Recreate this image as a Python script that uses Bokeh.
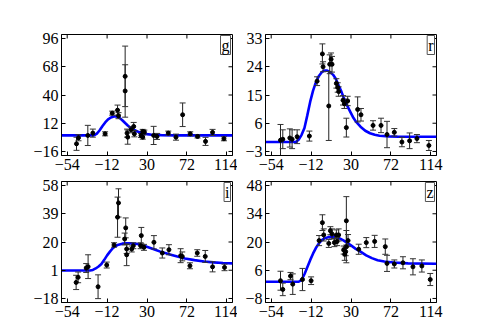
import math
from bokeh.plotting import figure
from bokeh.layouts import gridplot
from bokeh.models import Range1d, FixedTicker, Label, ColumnDataSource
from bokeh.embed import file_html
from bokeh.resources import INLINE

FONT = "Liberation Serif"

x_ticks = [-54, -12, 30, 72, 114]
x_lim = (-60, 120)

# ---------------- g band ----------------
g_ticks = [-16, 12, 40, 68, 96]
g_lim = (-20, 100)
g_t = [-44.2, -42.1, -32.3, -27.0, -14.1, -6.6, -1.0, 0.0, 7.0, 7.0, 9.0, 9.7, 13.2, 16.0, 16.7,
       23.7, 25.5, 27.2, 25.5, 37.0, 40.5, 52.4, 60.5, 67.5, 75.5, 83.2, 91.6, 99.0, 111.0]
g_f = [-8.4, -2.4, -0.1, 2.2, 1.5, 22.0, 25.0, 19.5, 58.5, 44.0, 2.2, -1.8, 5.5, 8.8, 1.5,
       -0.1, 3.9, 3.2, -1.8, -0.1, -1.1, 2.2, -1.8, 20.4, 1.5, -1.1, -6.0, 2.9, -3.4]
g_e = [6.5, 3.0, 10.0, 4.0, 2.0, 2.0, 5.0, 3.0, 30.0, 26.0, 4.0, 7.0, 3.0, 4.0, 3.0,
       2.0, 2.0, 2.0, 2.0, 9.0, 3.0, 2.0, 3.0, 11.7, 2.0, 1.5, 4.0, 3.0, 2.0]
g_mt = [-60, -26, -23, -20, -17, -14, -11, -8, -5, -2, 1, 4, 7, 10, 13, 16, 20, 25, 30, 35, 45, 60, 120]
g_mf = [0.0, 0.0, 1.5, 4.8, 9.0, 12.8, 15.8, 17.7, 18.7, 18.7, 17.5, 15.0, 12.2, 9.5, 7.3, 5.5,
        3.8, 2.2, 1.2, 0.6, 0.2, 0.0, 0.0]

# ---------------- r band ----------------
r_ticks = [-3, 6, 15, 24, 33]
r_lim = (-4.29, 34.29)
r_t = [-44.2, -41.8, -34.4, -32.0, -26.7, -13.8, -5.7, -0.1, 0.6, 6.6, 7.6, 9.0, 10.0, 14.6, 16.0,
       17.0, 21.6, 23.0, 26.5, 25.1, 37.0, 40.5, 53.2, 61.6, 67.9, 75.6, 83.6, 91.7, 99.4, 112.0]
r_f = [0.6, 0.9, 1.3, 0.9, 1.7, 1.9, 19.4, 28.1, 24.0, 11.5, 24.8, 26.4, 24.8, 18.7, 17.4,
       16.1, 13.3, 12.2, 13.1, 4.6, 10.4, 8.7, 5.3, 5.3, 2.4, 3.1, 0.0, 0.4, 1.1, -1.1]
r_e = [5.0, 3.0, 2.9, 3.0, 2.2, 1.6, 1.4, 3.2, 1.6, 11.0, 3.0, 2.0, 2.5, 1.5, 1.5,
       1.5, 1.5, 1.5, 1.5, 3.0, 4.0, 2.0, 1.5, 2.3, 4.2, 1.2, 1.5, 2.5, 1.3, 1.6]
r_mt = [-60, -28, -25, -22, -19, -16, -13, -10, -7, -4, -1, 2, 5, 8, 11, 14, 17, 20, 23, 26, 29,
        32, 35, 40, 45, 50, 55, 60, 70, 80, 120]
r_mf = [0.0, 0.0, 0.8, 2.3, 4.5, 8.5, 12.8, 16.3, 19.0, 21.0, 22.2, 22.8, 22.8, 22.3, 21.5, 20.2,
        18.0, 16.0, 13.6, 11.6, 9.8, 8.0, 6.6, 4.9, 3.6, 2.8, 2.3, 2.0, 1.8, 1.7, 1.7]

# ---------------- i band ----------------
i_ticks = [-18, 1, 20, 39, 58]
i_lim = (-20.71, 60.71)
i_t = [-44.6, -42.5, -34.0, -32.0, -21.5, -12.4, -4.7, -1.0, 0.0, 7.6, 6.5, 8.6, 8.6, 13.9, 15.6,
       23.3, 24.0, 26.8, 37.3, 46.1, 53.1, 65.4, 67.1, 75.2, 82.9, 91.3, 99.0, 111.6]
i_f = [-7.2, -3.8, 2.5, 3.4, -10.1, 4.5, 18.0, 36.7, 46.3, 29.5, 22.0, 11.4, 15.3, 15.3, 17.5,
       17.5, 24.3, 16.4, 19.8, 12.6, 14.8, 10.8, 10.3, 4.0, 12.6, 10.3, 3.3, 2.9]
i_e = [4.8, 3.6, 3.0, 8.0, 8.0, 2.0, 1.5, 13.5, 9.5, 6.7, 4.0, 7.3, 3.0, 2.0, 2.0,
       2.0, 5.5, 2.0, 4.5, 3.4, 3.4, 4.7, 3.0, 2.0, 2.2, 4.0, 3.4, 2.2]
i_mt = [-60, -30, -27, -24, -21, -18, -15, -12, -9, -6, -3, 0, 4, 9, 14, 20, 26, 32, 38, 44, 50,
        56, 62, 70, 80, 90, 100, 110, 120]
i_mf = [0.8, 0.8, 1.2, 2.2, 3.5, 5.2, 8.0, 11.0, 13.5, 15.8, 17.3, 18.2, 18.9, 19.2, 19.1, 18.6,
        17.6, 16.3, 15.0, 13.5, 12.4, 11.3, 10.2, 8.9, 7.8, 6.9, 6.3, 5.9, 5.6]

# ---------------- z band ----------------
z_ticks = [-8, 6, 20, 34, 48]
z_lim = (-10, 50)
z_t = [-44.2, -41.8, -33.7, -31.3, -21.1, -12.0, -3.6, -0.1, 1.3, 6.6, 8.3, 10.0, 12.5, 14.6, 17.0,
       15.3, 22.3, 23.4, 24.4, 25.1, 25.1, 26.9, 38.1, 46.1, 54.9, 66.1, 67.9, 75.6, 84.7, 95.2,
       104.6, 113.4]
z_f = [0.8, -3.5, 3.1, -0.9, 1.4, 0.8, 20.7, 29.6, 23.5, 19.3, 25.6, 24.0, 19.7, 23.5, 23.5,
       20.2, 16.0, 13.9, 15.2, 30.5, 17.7, 20.7, 16.4, 19.7, 20.3, 17.7, 9.4, 9.1, 9.7, 7.7,
       8.1, 1.4]
z_e = [4.7, 3.1, 1.8, 5.1, 5.5, 1.9, 2.5, 3.9, 3.0, 2.0, 2.0, 2.5, 2.0, 2.5, 3.0,
       2.0, 2.0, 3.0, 2.0, 12.0, 8.0, 3.0, 2.5, 2.5, 3.0, 3.8, 4.0, 2.0, 3.0, 4.0,
       3.0, 3.0]
z_mt = [-60, -25, -22, -19, -16, -13, -10, -7, -4, -1, 2, 6, 10, 14, 18, 22, 26, 30, 35, 40, 46,
        52, 58, 65, 75, 90, 120]
z_mf = [0.3, 0.3, 1.2, 4.0, 7.5, 11.0, 14.2, 17.0, 19.2, 20.8, 21.8, 22.4, 22.6, 22.4, 21.8, 20.8,
        19.6, 18.3, 16.6, 15.2, 13.4, 12.0, 11.0, 10.3, 9.8, 9.4, 9.2]


def fmt(v):
    return str(v).replace("-", "\u2212")


def style_axis(ax, ticks):
    ax.ticker = FixedTicker(ticks=ticks)
    ax.major_tick_in = 4
    ax.major_tick_out = 0
    ax.minor_tick_line_color = None
    ax.major_tick_line_color = "black"
    ax.axis_line_color = "black"
    ax.major_label_overrides = {t: fmt(t) for t in ticks}
    ax.major_label_text_font = FONT
    ax.major_label_text_font_size = "16px"
    ax.major_label_text_color = "black"
    ax.major_label_standoff = 3


def panel(band, t, f, e, mt, mf, yticks, ylim, width, height, bl, br, bt, bb):
    p = figure(width=width, height=height, output_backend="svg", toolbar_location=None,
               x_range=Range1d(*x_lim), y_range=Range1d(*ylim),
               min_border_left=bl, min_border_right=br, min_border_top=bt, min_border_bottom=bb)
    p.xgrid.visible = False
    p.ygrid.visible = False
    p.outline_line_color = "black"
    p.outline_line_width = 1
    p.background_fill_color = "white"
    p.border_fill_color = "white"
    style_axis(p.xaxis[0], x_ticks)
    style_axis(p.yaxis[0], yticks)

    # mirrored inward ticks on the top and right frame edges (clipped to the frame)
    p.scatter(x=x_ticks, y=[ylim[1]] * len(x_ticks), marker="dash", angle=math.pi / 2,
              size=8, line_color="black", line_width=1)
    p.scatter(x=[x_lim[1]] * len(yticks), y=yticks, marker="dash",
              size=8, line_color="black", line_width=1)

    lo = [a - b for a, b in zip(f, e)]
    hi = [a + b for a, b in zip(f, e)]
    src = ColumnDataSource(dict(t=t, f=f, lo=lo, hi=hi))
    p.line(mt, mf, line_color="#0000ff", line_width=2.6)
    p.segment(x0="t", y0="lo", x1="t", y1="hi", source=src, line_color="#222222", line_width=1)
    p.scatter(x="t", y="lo", source=src, marker="dash", size=6, line_color="#333333", line_width=1)
    p.scatter(x="t", y="hi", source=src, marker="dash", size=6, line_color="#333333", line_width=1)
    p.scatter(x="t", y="f", source=src, marker="circle", size=4, fill_color="black", line_color="black")

    lab = Label(x=x_lim[1], y=ylim[1], text=band, text_align="right", text_baseline="top",
                x_offset=-2, y_offset=-1, text_font=FONT, text_font_size="16px", text_color="black",
                border_line_color="#555555", border_line_width=1, background_fill_color="white",
                padding=1)
    p.add_layout(lab)
    return p


p1 = panel("g", g_t, g_f, g_e, g_mt, g_mf, g_ticks, g_lim, 237, 176, 61, 5, 34, 21)
p2 = panel("r", r_t, r_f, r_e, r_mt, r_mf, r_ticks, r_lim, 209, 176, 28, 10, 34, 21)
p3 = panel("i", i_t, i_f, i_e, i_mt, i_mf, i_ticks, i_lim, 237, 147, 61, 5, 5, 21)
p4 = panel("z", z_t, z_f, z_e, z_mt, z_mf, z_ticks, z_lim, 209, 147, 28, 10, 5, 21)

grid = gridplot([[p1, p2], [p3, p4]], toolbar_location=None)

open("out.html", "w").write(file_html(grid, INLINE))
